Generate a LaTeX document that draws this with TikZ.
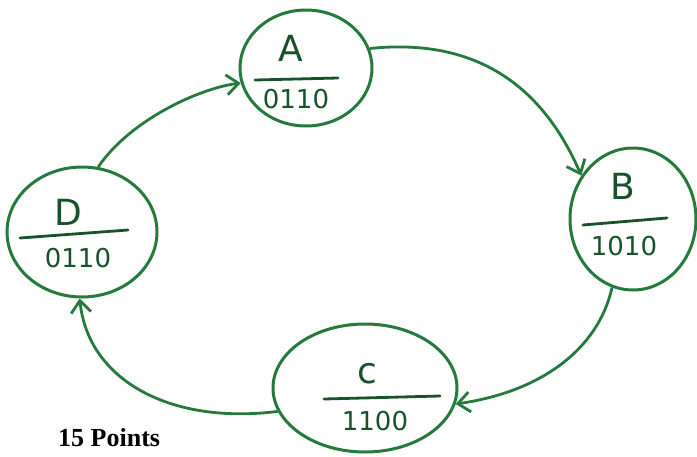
\documentclass[tikz,border=0pt]{standalone}
\usepackage{fontspec}
\setmainfont{Liberation Serif}
\newfontfamily\handfont{DejaVu Sans}
\usepackage{xcolor}
\usepackage{tikz}
\usetikzlibrary{arrows.meta,shapes.geometric}
\definecolor{pengreen}{RGB}{36,122,60}
\definecolor{inkgreen}{RGB}{24,82,42}
\tikzset{
  state/.style = {ellipse, draw=pengreen, line width=3pt, inner sep=0pt},
  flow/.style  = {-{Straight Barb[length=12pt,width=20pt]}, line width=2.8pt, draw=pengreen},
  lbl/.style   = {text=inkgreen, font=\handfont\fontsize{26}{26}\selectfont},
  big/.style   = {lbl, font=\handfont\fontsize{36}{36}\selectfont},
  bar/.style   = {draw=inkgreen, line width=2.8pt, line cap=round},
}

\begin{document}
\begin{tikzpicture}[x=1pt,y=-1pt]
  \useasboundingbox (0,0) rectangle (697,456);
  % states
  \node[state, minimum width=132pt, minimum height=116pt] (A) at (306,68) {};
  \node[state, minimum width=126pt, minimum height=142pt] (B) at (633,219) {};
  \node[state, minimum width=184pt, minimum height=128pt] (C) at (365,388) {};
  \node[state, minimum width=150pt, minimum height=130pt] (D) at (82,232) {};
  % labels
  \node[big] (Atop) at (291,48) {A};
  \node[lbl] (Abot) at (296,99) {0110};
  \draw[bar] (255,80) -- (338,78);
  \node[big] (Btop) at (623,186) {B};
  \node[lbl] (Bbot) at (624,246) {1010};
  \draw[bar] (583,225) -- (667,218);
  \node[big] (Ctop) at (367,374) {c};
  \node[lbl] (Cbot) at (375,421) {1100};
  \draw[bar] (324,399) -- (440,396);
  \node[big] (Dtop) at (68,212) {D};
  \node[lbl] (Dbot) at (78,258) {0110};
  \draw[bar] (20,238) -- (128,230);
  % transitions
  \draw[flow] (D.76) .. controls (130,120) and (200,88) .. (A.193);
  \draw[flow] (A.17) .. controls (470,38) and (540,80) .. (B.140);
  \draw[flow] (B.253) .. controls (598,350) and (540,392) .. (C.-10);
  \draw[flow] (C.195) .. controls (170,425) and (88,380) .. (D.268);
  % caption
  \node[font=\bfseries\fontsize{26}{26}\selectfont, anchor=base west, inner sep=0pt] (pts) at (58,446) {15 Points};
\end{tikzpicture}
\end{document}
